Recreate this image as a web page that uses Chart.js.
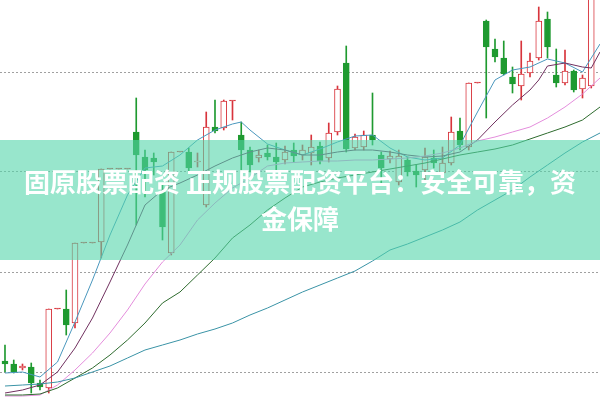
<!DOCTYPE html>
<html>
<head>
<meta charset="utf-8">
<script src="https://cdn.jsdelivr.net/npm/chart.js@4"></script>
<style>
body{margin:0;background:#fff}
#wrap{position:relative;width:600px;height:400px;overflow:hidden}
#banner{position:absolute;left:0;top:140px;width:600px;height:120px;background:rgba(83,213,170,0.6)}
#title{position:absolute;left:0;top:162px;width:600px;text-align:center;color:#fff;font-weight:bold;font-size:26px;line-height:37px;font-family:"Noto Sans CJK SC","Noto Sans",sans-serif}
</style>
</head>
<body>
<div id="wrap">
<canvas id="c" width="600" height="400"></canvas>
<div id="banner"></div>
<div id="title">固原股票配资 正规股票配资平台：安全可靠，资<br>金保障</div>
</div>
<script>
// daily candles, index 0..67
const open  = [5.1,4.8,4.4,4.5,2.9,2.4,10.3,10.3,8.9,16.9,16.9,17.0,24.3,24.3,24.3,28.0,25.5,25.4,22.0,15.9,26.0,26.0,25.0,20.7,28.5,28.4,31.1,27.7,26.2,25.4,25.9,25.5,25.2,26.2,25.7,25.9,26.6,25.4,28.0,34.9,26.4,26.5,27.7,25.7,25.3,23.0,25.2,24.1,24.2,25.4,23.9,24.9,28.1,26.5,32.9,39.1,36.3,35.4,33.5,32.6,33.9,35.4,39.3,33.7,32.9,34.1,32.3,32.6];
const close = [4.8,4.0,4.6,2.9,2.5,10.3,10.3,8.7,16.9,16.9,16.9,24.3,24.3,24.3,24.3,25.7,24.2,25.0,18.5,26.0,26.0,24.4,25.1,28.5,28.1,31.1,31.1,26.2,24.7,25.7,25.5,25.0,26.0,25.6,26.2,26.5,25.1,27.9,32.3,26.3,27.5,27.7,27.2,24.4,25.6,25.6,24.0,23.7,25.5,24.9,24.9,28.0,26.7,32.9,32.9,36.5,35.5,33.8,32.8,33.8,35.1,39.1,36.5,32.9,34.1,32.2,33.4,43.2];
const high  = [6.7,5.2,4.8,4.9,3.2,10.3,10.3,12.2,16.9,16.9,16.9,24.3,24.3,24.3,24.3,31.4,26.2,25.9,22.7,26.0,26.0,26.4,25.9,30.0,31.2,31.2,31.1,29.0,26.5,26.2,26.7,26.9,26.6,26.9,26.7,27.7,27.0,28.9,32.6,36.6,27.8,28.1,31.9,26.0,26.1,26.2,25.5,24.7,26.4,26.2,26.5,29.5,29.4,32.9,32.9,39.2,37.3,37.1,34.5,37.1,35.9,40.5,40.0,36.3,36.2,34.2,33.7,43.7];
const low   = [4.0,3.9,4.2,1.9,2.2,1.9,10.3,7.7,8.4,16.9,16.9,15.4,24.3,24.3,24.3,18.7,21.5,23.7,17.2,15.7,26.0,24.0,24.5,20.5,27.9,28.2,29.2,24.2,24.0,25.0,25.2,24.2,24.8,25.0,25.2,24.7,24.8,25.0,27.7,26.0,26.2,26.2,26.7,22.7,24.9,22.7,23.6,22.5,23.2,24.4,23.7,24.7,26.2,26.2,32.9,29.4,35.0,33.7,31.9,31.2,33.5,35.2,35.4,32.5,32.7,32.0,31.4,32.4];

// moving averages, read at sample days
const ma5X  = [0,2,4,6,8,10,12,14,16,18,20,22,24,26,27,28,30,32,34,36,38,40,42,44,46,48,50,52,54,56,58,60,62,64,66,67,68];
const ma5   = [3.9,4.0,3.5,5.0,9.0,13.2,17.7,21.7,24.4,24.6,25.7,27.2,28.2,28.8,29.0,28.2,26.8,26.2,25.7,26.3,27.0,27.6,27.7,26.4,25.5,25.2,25.4,26.7,30.0,33.2,34.2,34.5,35.3,34.9,34.0,35.4,36.8];
const ma10X = [0,2,4,6,8,10,12,14,16,18,20,22,24,26,28,30,32,34,36,38,40,42,44,46,48,50,52,54,56,58,60,61,62,64,66,67,68];
const ma10  = [1.9,2.2,2.7,4.0,6.4,9.4,13.0,16.7,20.7,22.2,22.9,23.7,24.6,25.4,26.0,26.4,26.2,25.7,25.7,26.0,26.2,26.2,26.0,25.7,25.5,25.6,26.0,27.2,29.0,30.7,32.2,33.2,34.6,34.9,34.5,34.4,36.0];
const maX   = [0,2,4,6,8,10,12,14,16,18,20,22,24,26,28,30,32,34,36,38,40,42,44,46,48,50,52,54,56,58,60,62,64,66,68];
const ma20  = [1.6,1.6,1.7,2.7,4.2,5.9,7.9,10.2,12.8,15.0,16.7,19.2,20.9,22.4,23.4,24.6,24.9,25.0,25.1,25.1,25.2,25.2,25.3,25.4,25.6,25.9,26.4,27.1,27.5,28.0,28.5,29.4,30.5,31.8,33.4];
const ma30  = [1.7,1.7,1.8,2.4,3.4,4.4,5.7,7.2,8.9,10.9,12.0,13.7,15.4,17.4,18.7,20.2,21.4,22.5,23.0,23.4,23.7,24.0,24.3,24.6,24.9,25.3,25.7,26.0,26.3,26.7,27.3,27.9,28.5,29.2,30.5];
const ma60  = [2.6,2.7,2.8,3.0,3.4,4.0,4.6,5.4,6.2,6.7,7.2,7.8,8.3,8.9,9.7,10.4,11.2,12.0,12.7,13.4,14.1,15.1,16.2,16.8,17.5,18.2,19.0,20.2,21.2,22.2,23.5,24.7,25.9,27.0,27.9];

const gridVals = [4,14,24,34];

const RED = '#d8343c', GREEN = '#1f9a30';
const days = open.map((v, i) => i);
const isUp = days.map(i => close[i] >= open[i]);
const candleCol = days.map(i => isUp[i] ? RED : GREEN);
const bodyFill = days.map(i => (isUp[i] && close[i] !== open[i]) ? '#ffffff' : candleCol[i]);

function line(xs, ys, color) {
  return {
    type: 'line',
    data: xs.map((x, k) => ({x: x, y: ys[k]})),
    borderColor: color,
    borderWidth: 1,
    pointRadius: 0,
    tension: 0,
    order: 0
  };
}

new Chart(document.getElementById('c'), {
  data: {
    datasets: [
      {
        type: 'bar',
        data: days.map(i => ({x: i, y: [low[i], high[i]]})),
        backgroundColor: candleCol,
        barThickness: 1,
        grouped: false,
        order: 3
      },
      {
        type: 'bar',
        data: days.map(i => ({x: i, y: [open[i], close[i]]})),
        backgroundColor: bodyFill,
        borderColor: candleCol,
        borderWidth: 1,
        borderSkipped: false,
        barThickness: 6,
        minBarLength: 1,
        grouped: false,
        order: 2
      },
      line(maX, ma60, '#3a93a6'),
      line(maX, ma30, '#2e6b2e'),
      line(maX, ma20, '#e48ddc'),
      line(ma10X, ma10, '#70305f'),
      line(ma5X, ma5, '#4a97bd')
    ]
  },
  options: {
    responsive: false,
    animation: false,
    layout: {padding: 0},
    plugins: {legend: {display: false}, tooltip: {enabled: false}},
    scales: {
      x: {
        type: 'linear',
        min: -0.57,
        max: 68,
        offset: false,
        display: false
      },
      y: {
        min: 1.2,
        max: 41.2,
        afterBuildTicks: s => { s.ticks = gridVals.map(v => ({value: v})); },
        ticks: {display: false},
        grid: {color: '#a0a0a0', lineWidth: 1, drawTicks: false},
        border: {display: false, dash: [2, 2]}
      }
    }
  }
});
</script>
</body>
</html>
